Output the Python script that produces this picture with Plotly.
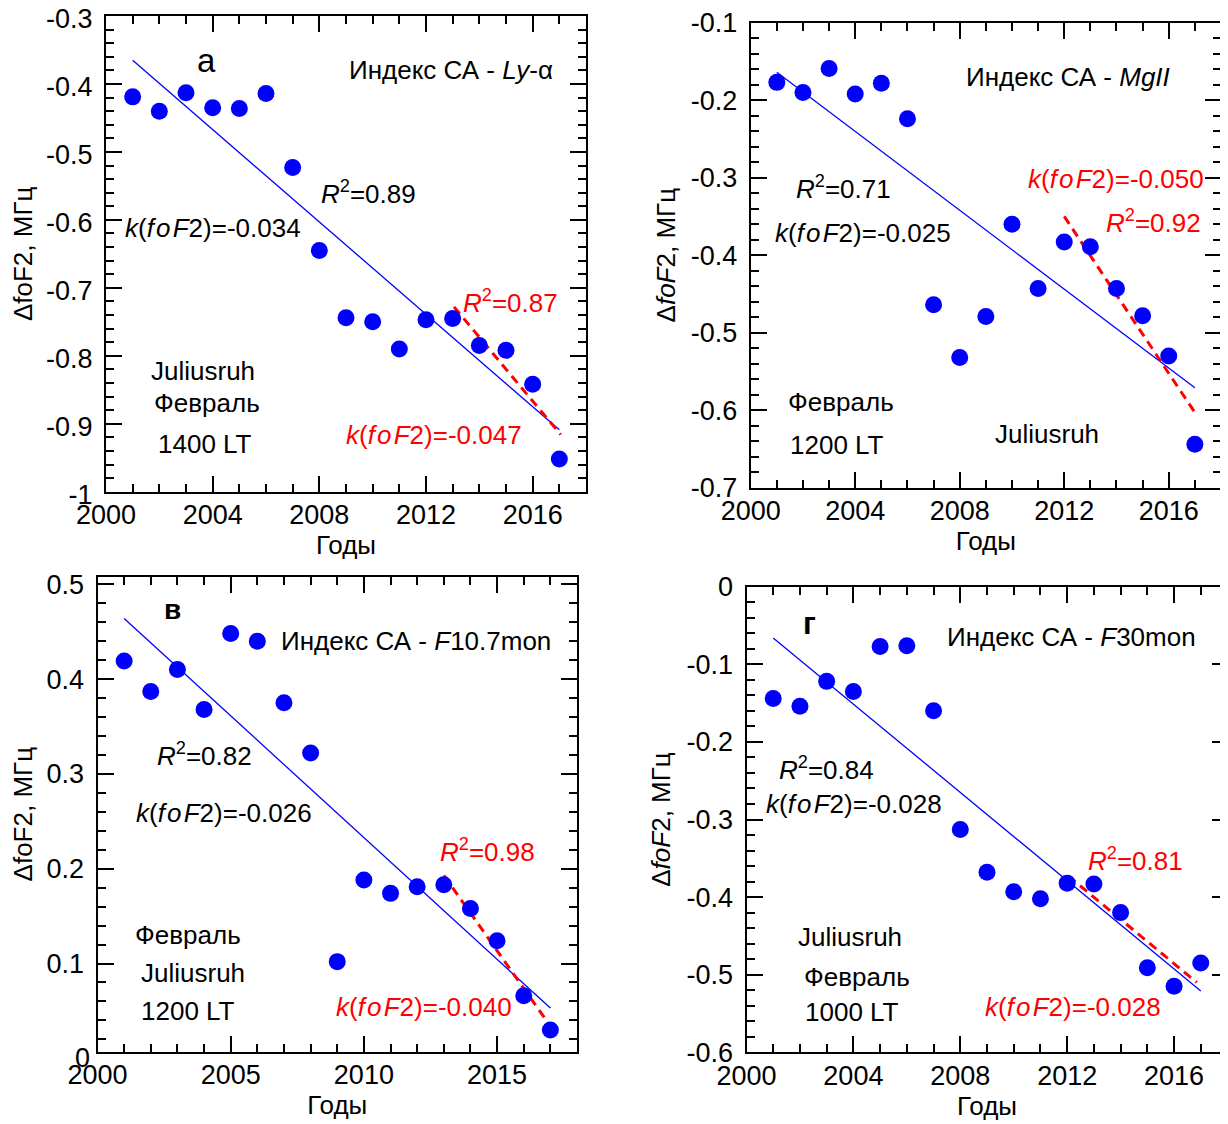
import plotly.graph_objects as go

# ---------------- data ----------------
years = [2001, 2002, 2003, 2004, 2005, 2006, 2007, 2008, 2009,
         2010, 2011, 2012, 2013, 2014, 2015, 2016, 2017]

# а) Ly-alpha, 1400 LT
dfof2_lya = [-0.419, -0.440, -0.413, -0.435, -0.436, -0.414, -0.523, -0.645, -0.744,
             -0.750, -0.790, -0.747, -0.745, -0.785, -0.792, -0.842, -0.952]
trend_lya_x = [2001, 2017]
trend_lya_y = [-0.365, -0.909]
trend2_lya_x = [2013.05, 2017.05]
trend2_lya_y = [-0.728, -0.916]

# б) MgII, 1200 LT
dfof2_mg = [-0.177, -0.190, -0.159, -0.192, -0.178, -0.224, -0.464, -0.532, -0.479,
            -0.360, -0.443, -0.383, -0.389, -0.443, -0.478, -0.530, -0.644]
trend_mg_x = [2001, 2017]
trend_mg_y = [-0.164, -0.571]
trend2_mg_x = [2012, 2017]
trend2_mg_y = [-0.350, -0.603]

# в) F10.7mon, 1200 LT
dfof2_f107 = [0.419, 0.387, 0.410, 0.368, 0.448, 0.440, 0.375, 0.322, 0.102,
              0.188, 0.174, 0.181, 0.183, 0.158, 0.124, 0.066, 0.030]
trend_f107_x = [2001, 2017]
trend_f107_y = [0.464, 0.053]
trend2_f107_x = [2013, 2017]
trend2_f107_y = [0.193, 0.034]

# г) F30mon, 1000 LT
dfof2_f30 = [-0.144, -0.154, -0.122, -0.135, -0.077, -0.076, -0.160, -0.313, -0.368,
             -0.393, -0.402, -0.382, -0.383, -0.420, -0.491, -0.515, -0.485]
trend_f30_x = [2001, 2017]
trend_f30_y = [-0.066, -0.521]
trend2_f30_x = [2012.05, 2016.85]
trend2_f30_y = [-0.373, -0.510]

# tick labels
xt_4 = [2000, 2004, 2008, 2012, 2016]
xt_4_text = ["2000", "2004", "2008", "2012", "2016"]
xt_5 = [2000, 2005, 2010, 2015]
xt_5_text = ["2000", "2005", "2010", "2015"]
yt_a = [-1, -0.9, -0.8, -0.7, -0.6, -0.5, -0.4, -0.3]
yt_a_text = ["-1", "-0.9", "-0.8", "-0.7", "-0.6", "-0.5", "-0.4", "-0.3"]
yt_b = [-0.7, -0.6, -0.5, -0.4, -0.3, -0.2, -0.1]
yt_b_text = ["-0.7", "-0.6", "-0.5", "-0.4", "-0.3", "-0.2", "-0.1"]
yt_c = [0.1, 0.2, 0.3, 0.4, 0.5]
yt_c_text = ["0.1", "0.2", "0.3", "0.4", "0.5"]
yt_d = [-0.6, -0.5, -0.4, -0.3, -0.2, -0.1, 0]
yt_d_text = ["-0.6", "-0.5", "-0.4", "-0.3", "-0.2", "-0.1", "0"]

# ---------------- styling ----------------
OFF = 8                      # page body margin of the exported html
W, H = 1228 - OFF, 1124 - OFF
FONT = "Arial, 'Liberation Sans', sans-serif"
BLUE = "#0000FF"
RED = "#FF0000"
TICK_FS = 27
TEXT_FS = 26

def R2(v):
    return "<i>R</i><sup>2</sup>=" + v

def K(v):
    return "<i>k</i>(<i>f\u200ao\u200aF</i>2)=" + v

# panel definitions: pixel box (left, top, right, bottom) in page pixels
panels = [
    dict(box=(106, 16, 586, 491.7), yr=[-1, -0.3], xt=(xt_4, xt_4_text), yt=(yt_a, yt_a_text),
         yshift=3,
         y=dfof2_lya, t1=(trend_lya_x, trend_lya_y), t2=(trend2_lya_x, trend2_lya_y),
         ytitle="ΔfoF2, МГц",
         labels=[("а", 2003.78, -0.366, "black", 33),
                 ("Индекс СА - <i>Ly</i>-α", 2012.95, -0.379, "black", TEXT_FS),
                 (R2("0.89"), 2009.85, -0.560, "black", TEXT_FS),
                 (K("-0.034"), 2004.0, -0.612, "black", TEXT_FS),
                 (R2("0.87"), 2015.15, -0.720, RED, TEXT_FS),
                 (K("-0.047"), 2012.3, -0.917, RED, TEXT_FS),
                 ("Juliusruh", 2003.65, -0.822, "black", TEXT_FS),
                 ("Февраль", 2003.8, -0.870, "black", TEXT_FS),
                 ("1400 LT", 2003.7, -0.930, "black", TEXT_FS)]),
    dict(box=(750.7, 22.7, 1221, 487.7), yr=[-0.7, -0.1], xt=(xt_4, xt_4_text), yt=(yt_b, yt_b_text),
         yshift=0,
         y=dfof2_mg, t1=(trend_mg_x, trend_mg_y), t2=(trend2_mg_x, trend2_mg_y),
         ytitle="Δ<i>foF</i>2, МГц",
         labels=[("Индекс СА - <i>MgII</i>", 2012.15, -0.170, "black", TEXT_FS),
                 (R2("0.71"), 2003.56, -0.313, "black", TEXT_FS),
                 (K("-0.025"), 2004.3, -0.371, "black", TEXT_FS),
                 (K("-0.050"), 2014.0, -0.302, RED, TEXT_FS),
                 (R2("0.92"), 2015.4, -0.357, RED, TEXT_FS),
                 ("Февраль", 2003.46, -0.589, "black", TEXT_FS),
                 ("1200 LT", 2003.3, -0.645, "black", TEXT_FS),
                 ("Juliusruh", 2011.35, -0.631, "black", TEXT_FS)]),
    dict(box=(97.5, 576.7, 577, 1051.7), yr=[0.007, 0.508], xt=(xt_5, xt_5_text), yt=(yt_c, yt_c_text),
         yshift=0,
         y=dfof2_f107, t1=(trend_f107_x, trend_f107_y), t2=(trend2_f107_x, trend2_f107_y),
         ytitle="ΔfoF2, МГц",
         labels=[("<b>в</b>", 2002.81, 0.473, "black", 28),
                 ("Индекс СА - <i>F</i>10.7mon", 2011.97, 0.440, "black", TEXT_FS),
                 (R2("0.82"), 2004.0, 0.320, "black", TEXT_FS),
                 (K("-0.026"), 2004.75, 0.259, "black", TEXT_FS),
                 (R2("0.98"), 2014.64, 0.219, RED, TEXT_FS),
                 (K("-0.040"), 2012.26, 0.0545, RED, TEXT_FS),
                 ("Февраль", 2003.4, 0.130, "black", TEXT_FS),
                 ("Juliusruh", 2003.6, 0.090, "black", TEXT_FS),
                 ("1200 LT", 2003.4, 0.0496, "black", TEXT_FS)]),
    dict(box=(746.5, 586.7, 1227.5, 1052.3), yr=[-0.6, 0], xt=(xt_4, xt_4_text), yt=(yt_d, yt_d_text),
         yshift=0,
         y=dfof2_f30, t1=(trend_f30_x, trend_f30_y), t2=(trend2_f30_x, trend2_f30_y),
         ytitle="Δ<i>foF</i>2, МГц",
         labels=[("<b>г</b>", 2002.34, -0.047, "black", 31),
                 ("Индекс СА - <i>F</i>30mon", 2012.15, -0.065, "black", TEXT_FS),
                 (R2("0.84"), 2002.98, -0.234, "black", TEXT_FS),
                 (K("-0.028"), 2004.03, -0.280, "black", TEXT_FS),
                 (R2("0.81"), 2014.56, -0.352, RED, TEXT_FS),
                 (K("-0.028"), 2012.22, -0.542, RED, TEXT_FS),
                 ("Juliusruh", 2003.87, -0.452, "black", TEXT_FS),
                 ("Февраль", 2004.12, -0.503, "black", TEXT_FS),
                 ("1000 LT", 2003.95, -0.548, "black", TEXT_FS)]),
]

fig = go.Figure()
annotations = []
layout = dict(width=W, height=H, margin=dict(l=0, r=0, t=0, b=0, autoexpand=False),
              paper_bgcolor="white", plot_bgcolor="white", showlegend=False,
              font=dict(family=FONT, size=TEXT_FS, color="black"))

for i, p in enumerate(panels, start=1):
    sfx = "" if i == 1 else str(i)
    xa, ya = "x" + sfx, "y" + sfx
    l, t, r, b = [v - OFF for v in p["box"]]
    common = dict(showline=True, linecolor="black", linewidth=2, mirror="allticks",
                  ticks="inside", ticklen=16, tickwidth=2, tickcolor="black",
                  showgrid=False, zeroline=False, automargin=False,
                  ticklabeloverflow="allow",
                  tickfont=dict(family=FONT, size=TICK_FS, color="black"))
    layout["xaxis" + sfx] = dict(common, domain=[l / W, min(r / W, 1)], range=[2000, 2018],
                                 anchor=ya, tickmode="array", tickvals=p["xt"][0], ticktext=p["xt"][1],
                                 ticklabelstandoff=-2,
                                 minor=dict(dtick=1, tick0=2000, ticks="inside", ticklen=8,
                                            tickwidth=1.6, tickcolor="black", showgrid=False),
                                 title=dict(text="Годы", font=dict(family=FONT, size=TEXT_FS), standoff=2))
    layout["yaxis" + sfx] = dict(common, domain=[1 - b / H, 1 - t / H], range=p["yr"],
                                 anchor=xa, tickmode="array", tickvals=p["yt"][0], ticktext=p["yt"][1],
                                 ticklabelstandoff=6, ticklabelshift=p["yshift"],
                                 minor=dict(dtick=0.02, tick0=0, ticks="inside", ticklen=8,
                                            tickwidth=1.6, tickcolor="black", showgrid=False),
                                 title=dict(text=p["ytitle"], font=dict(family=FONT, size=TEXT_FS), standoff=8))

    fig.add_trace(go.Scatter(x=p["t1"][0], y=p["t1"][1], mode="lines", xaxis=xa, yaxis=ya,
                             line=dict(color=BLUE, width=1.3), hoverinfo="skip"))
    fig.add_trace(go.Scatter(x=p["t2"][0], y=p["t2"][1], mode="lines", xaxis=xa, yaxis=ya,
                             line=dict(color=RED, width=3, dash="9px,6px"), hoverinfo="skip"))
    fig.add_trace(go.Scatter(x=years, y=p["y"], mode="markers", xaxis=xa, yaxis=ya,
                             marker=dict(color=BLUE, size=17, line=dict(width=0)),
                             cliponaxis=False))

    for text, x, y, col, fs in p["labels"]:
        annotations.append(dict(text=text, x=x, y=y, xref=xa, yref=ya, showarrow=False,
                                xanchor="center", yanchor="middle",
                                font=dict(family=FONT, size=fs, color=col)))

# the "0" tick label of panel в sits just below its frame (outside the axis range)
c_l, c_t, c_r, c_b = [v - OFF for v in panels[2]["box"]]
c_lo, c_hi = panels[2]["yr"]
zero_px = c_b + (c_lo - 0) / (c_hi - c_lo) * (c_b - c_t)
annotations.append(dict(text="0", x=(c_l - 6) / W, y=1 - zero_px / H, xref="paper", yref="paper",
                        showarrow=False, xanchor="right", yanchor="middle",
                        font=dict(family=FONT, size=TICK_FS, color="black")))

layout["annotations"] = annotations
fig.update_layout(**layout)
fig.write_html("out.html")
